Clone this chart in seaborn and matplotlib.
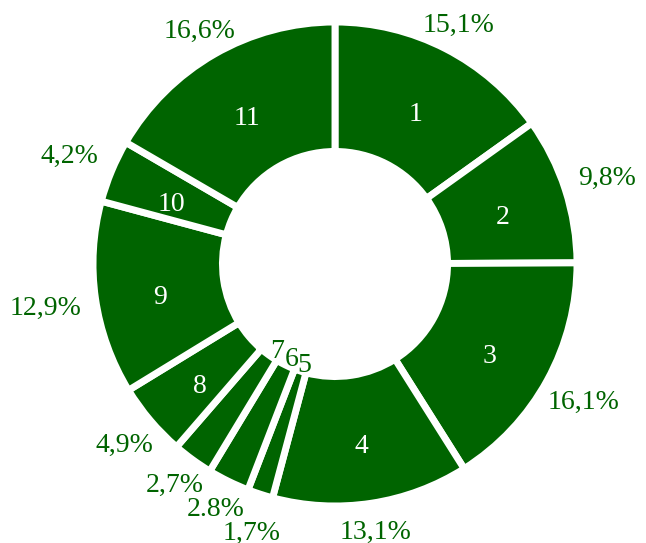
import matplotlib
matplotlib.use("Agg")
import matplotlib.pyplot as plt
import matplotlib.transforms as mtransforms
import numpy as np
import seaborn as sns

# ── data ─────────────────────────────────────────────────────────────────────
slice_ids = ["1", "2", "3", "4", "5", "6", "7", "8", "9", "10", "11"]
shares = [15.1, 9.8, 16.1, 13.1, 1.7, 2.8, 2.7, 4.9, 12.9, 4.2, 16.6]
pct_labels = ["15,1%", "9,8%", "16,1%", "13,1%", "1,7%", "2.8%",
              "2,7%", "4,9%", "12,9%", "4,2%", "16,6%"]

GREEN = "#006400"
PX = 242.0          # pixels per data unit (outer radius = 1)
LABEL_GAP = 1.058   # radius where the outside label boxes touch
LABEL_H = 26.0      # label box height in pixels (for placement)
MIN_DY = 24.0       # min vertical spacing of neighbouring labels, pixels

sns.set_theme(style="white")
plt.rcParams["font.family"] = ["Liberation Serif", "DejaVu Serif"]

fig = plt.figure(figsize=(6.46, 5.43), dpi=100)
ax = fig.add_axes([0, 0, 1, 1])

wedges, _ = ax.pie(
    shares,
    startangle=90,
    counterclock=False,
    colors=[GREEN] * len(shares),
    wedgeprops=dict(width=0.535, edgecolor="white", linewidth=5),
)

# place the ring at the same pixel position as the reference
ax.set_xlim(-335 / PX, 311 / PX)
ax.set_ylim(-279 / PX, 264 / PX)
ax.set_aspect("auto")
ax.axis("off")

inner_tr = mtransforms.offset_copy(ax.transData, fig=fig, y=-8, units="dots")
outer_tr = mtransforms.offset_copy(ax.transData, fig=fig, y=-2.6, units="dots")

angles = [np.deg2rad((w.theta1 + w.theta2) / 2) for w in wedges]

# slice numbers: white in the ring, green inside the hole for tiny slices
for ang, name, val in zip(angles, slice_ids, shares):
    r, col = (0.405, GREEN) if val < 3 else (0.73, "white")
    ax.text(r * np.cos(ang), r * np.sin(ang), name, ha="center", va="center",
            color=col, fontsize=20, transform=inner_tr)

# percentages outside: box pushed out until its edge touches the label circle
pct_texts = [ax.text(0, 0, pct, ha="center", va="center", color=GREEN,
                     fontsize=20, transform=outer_tr) for pct in pct_labels]
fig.canvas.draw()
renderer = fig.canvas.get_renderer()

widths, pos = [], []
for t, ang in zip(pct_texts, angles):
    w = t.get_window_extent(renderer).width
    c, s = np.cos(ang), np.sin(ang)
    ex = (w / 2) / abs(c) if abs(c) > 1e-6 else np.inf
    ey = (LABEL_H / 2) / abs(s) if abs(s) > 1e-6 else np.inf
    r = LABEL_GAP * PX + min(ex, ey)
    widths.append(w)
    pos.append([r * c, r * s])

# push the smaller neighbour away vertically when two labels collide
for i in range(len(pos) - 1):
    j = i + 1
    dx = abs(pos[i][0] - pos[j][0])
    dy = pos[j][1] - pos[i][1]
    if dx < (widths[i] + widths[j]) / 2 and abs(dy) < MIN_DY:
        k, other = (i, j) if shares[i] < shares[j] else (j, i)
        sign = 1.0 if pos[k][1] >= pos[other][1] else -1.0
        pos[k][1] = pos[other][1] + sign * MIN_DY

for t, (x, y) in zip(pct_texts, pos):
    t.set_position((x / PX, y / PX))

fig.savefig("out.png", dpi=100)
